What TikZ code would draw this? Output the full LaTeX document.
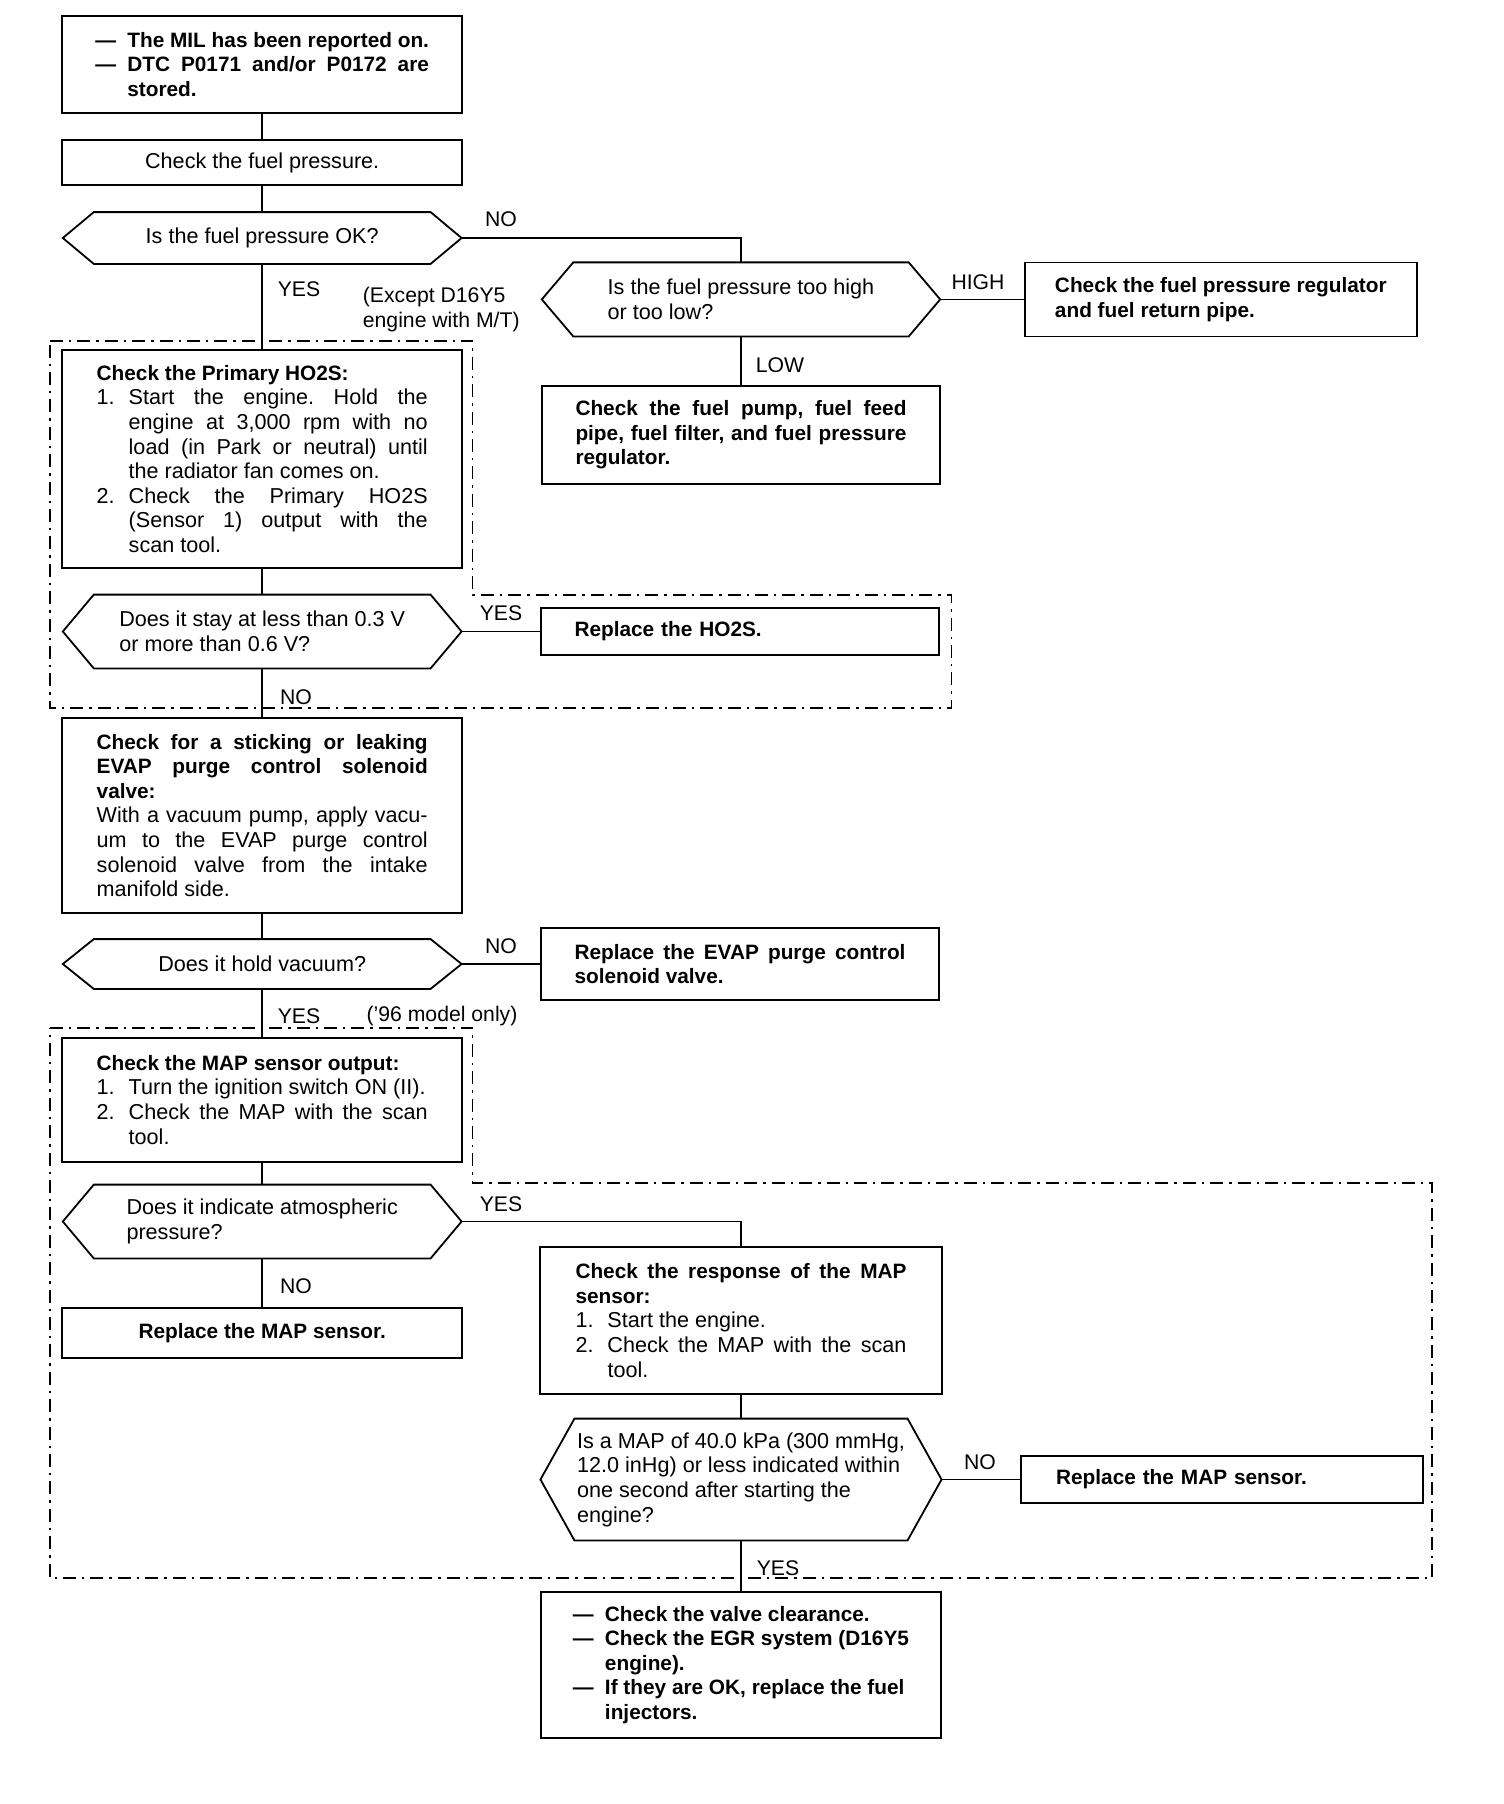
\documentclass[tikz,border=0pt]{standalone}
\usepackage{fontspec}
\setmainfont{Liberation Sans}
\usetikzlibrary{calc}
\frenchspacing
\newcommand\myrg{\fontsize{10.8pt}{12.3pt}\selectfont}
\newcommand\mybd{\fontsize{10.4pt}{12.3pt}\selectfont\bfseries}
\newcommand\mylab{\fontsize{10.6pt}{12.5pt}\selectfont}
\newcommand\myjl[2]{\makebox[#1][s]{#2}}
\newcommand\myitm[1]{\makebox[16pt][l]{#1}}
\newcommand\myind{\makebox[16pt]{}}
\newcommand\hexo[2]{\draw[line] (#1.west) -- ([xshift=#2]#1.north west) -- ([xshift=-#2]#1.north east) -- (#1.east) -- ([xshift=-#2]#1.south east) -- ([xshift=#2]#1.south west) -- cycle;}
\begin{document}
\frenchspacing
\begin{tikzpicture}[x=0.5pt,y=-0.5pt,
  line/.style={line width=0.9pt},
  box/.style={draw, line width=0.9pt, rectangle, inner sep=0pt, font=\myrg, align=left},
  bbox/.style={box, font=\mybd},
  dec/.style={rectangle, inner sep=0pt, font=\myrg, align=left},
  lbl/.style={font=\mylab, inner sep=0pt},
  dd/.style={line width=0.6pt, dash pattern=on 6.5pt off 3pt on 1.2pt off 3pt},
]
\fill[white] (0,0) rectangle (1504,1804);
\useasboundingbox (0,0) rectangle (1504,1804);

% dashed regions
\draw[dd] (50,341) -- (472.7,341) -- (472.7,595) -- (951.7,595) -- (951.7,708) -- (50,708) -- cycle;
\draw[dd] (50,1028) -- (472.7,1028) -- (472.7,1183) -- (1432,1183) -- (1432,1578) -- (50,1578) -- cycle;

% left column
\node[bbox, minimum width=200pt, minimum height=48.35pt] (b1) at (262.2,64.35)
 {\myitm{\textemdash}The MIL has been reported on.\\
  \myitm{\textemdash}\myjl{150.8pt}{DTC P0171 and/or P0172 are}\\
  \myind stored.};
\node[box, minimum width=200pt, minimum height=22.5pt, align=center] (b2) at (262.2,162.5)
 {Check the fuel pressure.};
\node[dec, minimum width=199pt, minimum height=25.5pt, align=center] (d1) at (262.2,238)
 {Is the fuel pressure OK?};
\hexo{d1}{15.5pt}
\node[box, minimum width=200pt, minimum height=109pt] (b3) at (262.2,459)
 {{\mybd Check the Primary HO2S:}\\
  \myitm{1.}\myjl{149.5pt}{Start the engine. Hold the}\\
  \myind\myjl{149.5pt}{engine at 3,000 rpm with no}\\
  \myind\myjl{149.5pt}{load (in Park or neutral) until}\\
  \myind the radiator fan comes on.\\
  \myitm{2.}\myjl{149.5pt}{Check the Primary HO2S}\\
  \myind\myjl{149.5pt}{(Sensor 1) output with the}\\
  \myind scan tool.};
\node[dec, minimum width=199pt, minimum height=36.5pt] (d2) at (262.2,631.5)
 {Does it stay at less than 0.3 V\\or more than 0.6 V?};
\hexo{d2}{15.5pt}
\node[box, minimum width=200pt, minimum height=97.5pt] (b4) at (262.2,815.5)
 {\myjl{165.5pt}{\mybd Check for a sticking or leaking}\\
  \myjl{165.5pt}{\mybd EVAP purge control solenoid}\\
  {\mybd valve:}\\
  \myjl{165.5pt}{With a vacuum pump, apply vacu-}\\
  \myjl{165.5pt}{um to the EVAP purge control}\\
  \myjl{165.5pt}{solenoid valve from the intake}\\
  manifold side.};
\node[dec, minimum width=199pt, minimum height=24.5pt, align=center] (d3) at (262.2,964)
 {Does it hold vacuum?};
\hexo{d3}{15.5pt}
\node[box, minimum width=200pt, minimum height=61.85pt] (b5) at (262.2,1099.85)
 {{\mybd Check the MAP sensor output:}\\
  \myitm{1.}Turn the ignition switch ON (II).\\
  \myitm{2.}\myjl{149.5pt}{Check the MAP with the scan}\\
  \myind tool.};
\node[dec, minimum width=199pt, minimum height=36.5pt] (d4) at (262.2,1221.5)
 {Does it indicate atmospheric\\pressure?};
\hexo{d4}{15.5pt}
\node[bbox, minimum width=200pt, minimum height=25pt, align=center] (rm1) at (262.2,1333)
 {Replace the MAP sensor.};

% right column
\node[dec, minimum width=198.8pt, minimum height=36.65pt] (d6) at (741,299.4)
 {Is the fuel pressure too high\\or too low?};
\hexo{d6}{15.75pt}
\node[bbox, minimum width=195.85pt, minimum height=37pt] (hi) at (1220.85,299.4)
 {Check the fuel pressure regulator\\and fuel return pipe.};
\node[bbox, minimum width=199.3pt, minimum height=49pt] (pump) at (741,435)
 {\myjl{165.5pt}{Check the fuel pump, fuel feed}\\
  \myjl{165.5pt}{pipe, fuel filter, and fuel pressure}\\
  regulator.};
\node[bbox, minimum width=199.15pt, minimum height=23.5pt, text width=165.5pt] (rho) at (740,631.5)
 {Replace the HO2S.};
\node[bbox, minimum width=199.15pt, minimum height=36pt] (rev) at (740,964)
 {\myjl{165.5pt}{Replace the EVAP purge control}\\
  solenoid valve.};
\node[box, minimum width=200.65pt, minimum height=73.5pt] (b6) at (741,1320.5)
 {\myjl{165.5pt}{\mybd Check the response of the MAP}\\
  {\mybd sensor:}\\
  \myitm{1.}Start the engine.\\
  \myitm{2.}\myjl{149.5pt}{Check the MAP with the scan}\\
  \myind tool.};
\node[dec, minimum width=200.15pt, minimum height=60.5pt] (d5) at (741,1479.5)
 {Is a MAP of 40.0 kPa (300 mmHg,\\12.0 inHg) or less indicated within\\one second after starting the\\engine?};
\hexo{d5}{17pt}
\node[bbox, minimum width=201pt, minimum height=23.65pt, text width=165.5pt] (rm2) at (1221.6,1479.5)
 {Replace the MAP sensor.};
\node[bbox, minimum width=200pt, minimum height=73.15pt] (fin) at (741,1664.85)
 {\myitm{\textemdash}Check the valve clearance.\\
  \myitm{\textemdash}Check the EGR system (D16Y5\\
  \myind engine).\\
  \myitm{\textemdash}If they are OK, replace the fuel\\
  \myind injectors.};

% connectors
\draw[line] (b1.south) -- (b2.north);
\draw[line] (b2.south) -- (d1.north);
\draw[line] (d1.east) -| (d6.north);
\draw[line] (d1.south) -- (b3.north);
\draw[line] (d6.east) -- (hi.west);
\draw[line] (d6.south) -- (pump.north);
\draw[line] (b3.south) -- (d2.north);
\draw[line] (d2.east) -- (rho.west);
\draw[line] (d2.south) -- (b4.north);
\draw[line] (b4.south) -- (d3.north);
\draw[line] (d3.east) -- (rev.west);
\draw[line] (d3.south) -- (b5.north);
\draw[line] (b5.south) -- (d4.north);
\draw[line] (d4.south) -- (rm1.north);
\draw[line] (d4.east) -| (b6.north);
\draw[line] (b6.south) -- (d5.north);
\draw[line] (d5.east) -- (rm2.west);
\draw[line] (d5.south) -- (fin.north);

% labels
\node[lbl] (l1) at (501,219) {NO};
\node[lbl] (l2) at (299,289) {YES};
\node[lbl, anchor=west, align=left] (l3) at (362.5,309.5) {(Except D16Y5\\engine with M/T)};
\node[lbl] (l4) at (978,282) {HIGH};
\node[lbl] (l5) at (780,365) {LOW};
\node[lbl] (l6) at (501,613) {YES};
\node[lbl] (l7) at (296,697) {NO};
\node[lbl] (l8) at (501,946) {NO};
\node[lbl] (l9) at (299,1016) {YES};
\node[lbl] (l10) at (442,1016) {(’96 model only)};
\node[lbl] (l11) at (501,1204) {YES};
\node[lbl] (l12) at (296,1286) {NO};
\node[lbl] (l13) at (980,1462) {NO};
\node[lbl] (l14) at (778,1568) {YES};
\end{tikzpicture}
\end{document}
